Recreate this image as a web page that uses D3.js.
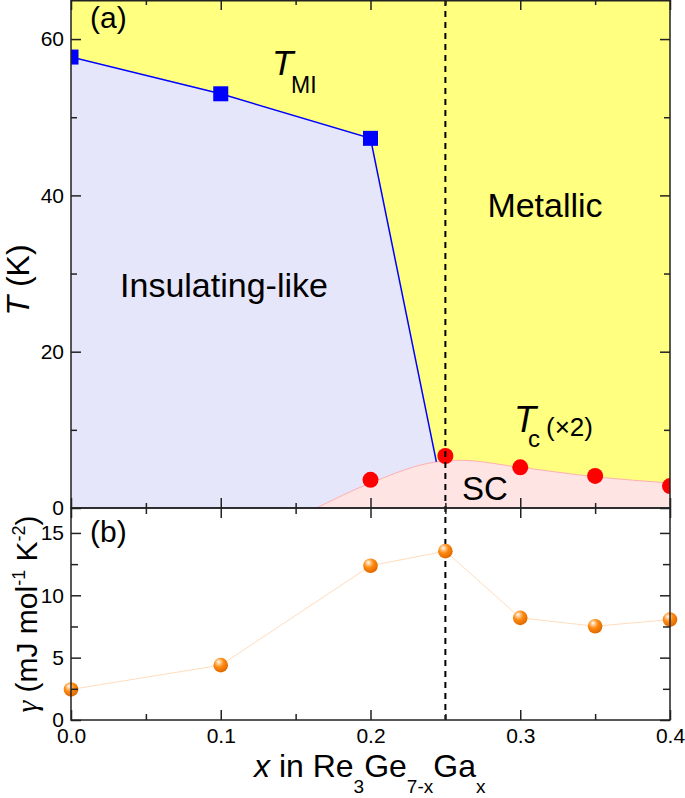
<!DOCTYPE html>
<html>
<head>
<meta charset="utf-8">
<script src="https://cdn.jsdelivr.net/npm/d3@7"></script>
<style>
html,body{margin:0;padding:0;background:#fff;}
svg{display:block;}
text{font-family:"Liberation Sans",Arial,sans-serif;fill:#000;}
</style>
</head>
<body>
<div id="chart"></div>
<script>
// ---------- data ----------
const miX = [0, 0.1, 0.2];            // T_MI points (x)
const miT = [57.7, 53.0, 47.3];       // T_MI (K)
const miLineX = [0, 0.1, 0.2, 0.244]; // MI boundary line
const miLineT = [57.7, 53.0, 47.3, 5.9];
const tcX = [0.2, 0.25, 0.3, 0.35, 0.4];   // Tc points
const tcT = [3.6, 6.65, 5.2, 4.1, 2.8];    // Tc (x2), K
const domeX = [0.164, 0.2, 0.244, 0.26, 0.3, 0.35, 0.4]; // SC dome boundary
const domeT = [0, 3.2, 5.9, 6.1, 5.2, 4.0, 3.2];
const gX = [0, 0.1, 0.2, 0.25, 0.3, 0.35, 0.4];          // gamma points
const gammaV = [2.45, 4.4, 12.37, 13.54, 8.19, 7.52, 8.05]; // mJ mol^-1 K^-2
const xTicks = [0, 0.1, 0.2, 0.3, 0.4];
const xTickLabels = ["0.0", "0.1", "0.2", "0.3", "0.4"];
const xMinor = [0.05, 0.15, 0.25, 0.35];
const tTicks = [0, 20, 40, 60];
const tMinor = [10, 30, 50];
const gTicks = [0, 5, 10, 15];
const gMinor = [2.5, 7.5, 12.5];
const xCritical = 0.25;

// ---------- layout ----------
const W = 685, H = 798;
const L = 71, R = 670, T0 = 0, MID = 508, B = 720;
const svg = d3.select("#chart").append("svg").attr("width", W).attr("height", H);

const x = d3.scaleLinear().domain([0, 0.4]).range([L, R]);
const yT = d3.scaleLinear().domain([0, 65]).range([MID, T0]);
const yG = d3.scaleLinear().domain([0, 17]).range([B, MID]);

const defs = svg.append("defs");
defs.append("clipPath").attr("id", "clipTop").append("rect")
  .attr("x", L).attr("y", T0).attr("width", R - L).attr("height", MID - T0);
const grad = defs.append("radialGradient").attr("id", "ball")
  .attr("cx", "40%").attr("cy", "35%").attr("r", "65%").attr("fx", "35%").attr("fy", "28%");
grad.append("stop").attr("offset", "0%").attr("stop-color", "#ffffff");
grad.append("stop").attr("offset", "18%").attr("stop-color", "#ffd2a0");
grad.append("stop").attr("offset", "50%").attr("stop-color", "#ff8a10");
grad.append("stop").attr("offset", "100%").attr("stop-color", "#e06800");

// ---------- top panel ----------
const topG = svg.append("g").attr("clip-path", "url(#clipTop)");
topG.append("rect").attr("x", L).attr("y", T0).attr("width", R - L).attr("height", MID - T0)
  .attr("fill", "#ffff80");

// insulating region
const insPts = miLineX.map((d, i) => [d, miLineT[i]]);
const insPoly = insPts.concat([[miLineX[miLineX.length - 1], 0], [0, 0]]);
topG.append("path")
  .attr("d", d3.line().x(d => x(d[0])).y(d => yT(d[1]))(insPoly) + "Z")
  .attr("fill", "#e6e6fa");

// SC dome
const domePts = domeX.map((d, i) => [d, domeT[i]]);
const domeLine = d3.line().x(d => x(d[0])).y(d => yT(d[1])).curve(d3.curveMonotoneX);
const domeArea = d3.area().x(d => x(d[0])).y0(yT(0)).y1(d => yT(d[1])).curve(d3.curveMonotoneX);
topG.append("path").attr("d", domeArea(domePts)).attr("fill", "#ffe4e4");
topG.append("path").attr("d", domeLine(domePts)).attr("fill", "none")
  .attr("stroke", "#ffb0b0").attr("stroke-width", 1);

// MI line
topG.append("path")
  .attr("d", d3.line().x(d => x(d[0])).y(d => yT(d[1]))(insPts))
  .attr("fill", "none").attr("stroke", "#0000ff").attr("stroke-width", 1.5);
topG.selectAll("rect.mi").data(miX).enter().append("rect").attr("class", "mi")
  .attr("x", (d) => x(d) - 7.5).attr("y", (d, i) => yT(miT[i]) - 7.5)
  .attr("width", 15).attr("height", 15).attr("fill", "#0000ff");

// Tc points
topG.selectAll("circle.tc").data(tcX).enter().append("circle").attr("class", "tc")
  .attr("cx", d => x(d)).attr("cy", (d, i) => yT(tcT[i])).attr("r", 8).attr("fill", "#ff0000");

// ---------- bottom panel ----------
svg.append("path")
  .attr("d", d3.line().x(d => x(d[0])).y(d => yG(d[1]))(gX.map((d, i) => [d, gammaV[i]])))
  .attr("fill", "none").attr("stroke", "#ffdcbc").attr("stroke-width", 1);

// dashed critical line
svg.append("line").attr("x1", x(xCritical)).attr("x2", x(xCritical)).attr("y1", T0).attr("y2", B)
  .attr("stroke", "#000").attr("stroke-width", 2).attr("stroke-dasharray", "6,5");

svg.selectAll("circle.g").data(gX).enter().append("circle").attr("class", "g")
  .attr("cx", d => x(d)).attr("cy", (d, i) => yG(gammaV[i])).attr("r", 7.3).attr("fill", "url(#ball)");

// ---------- axes ----------
const axCol = "#222";
function styleAxis(g) {
  g.select(".domain").remove();
  g.selectAll(".tick line").attr("stroke", axCol).attr("stroke-width", 1.5);
  g.selectAll(".tick text").attr("font-size", 21).attr("fill", "#000")
    .attr("font-family", "Liberation Sans, Arial, sans-serif");
}
function addAxis(axis, tr) {
  svg.append("g").attr("transform", tr).call(axis).call(styleAxis);
}
const none = () => "";
// top panel
addAxis(d3.axisLeft(yT).tickValues(tTicks).tickSize(-10).tickPadding(7), `translate(${L},0)`);
addAxis(d3.axisLeft(yT).tickValues(tMinor).tickSize(-6).tickFormat(none), `translate(${L},0)`);
addAxis(d3.axisRight(yT).tickValues(tTicks).tickSize(-10).tickFormat(none), `translate(${R},0)`);
addAxis(d3.axisRight(yT).tickValues(tMinor).tickSize(-6).tickFormat(none), `translate(${R},0)`);
addAxis(d3.axisTop(x).tickValues(xTicks).tickSize(-10).tickFormat(none), `translate(0,${T0})`);
addAxis(d3.axisTop(x).tickValues(xMinor).tickSize(-5).tickFormat(none), `translate(0,${T0})`);
addAxis(d3.axisBottom(x).tickValues(xTicks).tickSize(-10).tickFormat(none), `translate(0,${MID})`);
addAxis(d3.axisBottom(x).tickValues(xMinor).tickSize(-5).tickFormat(none), `translate(0,${MID})`);
// bottom panel
addAxis(d3.axisLeft(yG).tickValues(gTicks).tickSize(-10).tickPadding(7), `translate(${L},0)`);
addAxis(d3.axisLeft(yG).tickValues(gMinor).tickSize(-7).tickFormat(none), `translate(${L},0)`);
addAxis(d3.axisRight(yG).tickValues(gTicks).tickSize(-10).tickFormat(none), `translate(${R},0)`);
addAxis(d3.axisRight(yG).tickValues(gMinor).tickSize(-7).tickFormat(none), `translate(${R},0)`);
addAxis(d3.axisTop(x).tickValues(xTicks).tickSize(-10).tickFormat(none), `translate(0,${MID})`);
addAxis(d3.axisTop(x).tickValues(xMinor).tickSize(-6).tickFormat(none), `translate(0,${MID})`);
addAxis(d3.axisBottom(x).tickValues(xTicks).tickSize(-10).tickPadding(8)
  .tickFormat((d, i) => xTickLabels[i]), `translate(0,${B})`);
addAxis(d3.axisBottom(x).tickValues(xMinor).tickSize(-6).tickFormat(none), `translate(0,${B})`);

// frames
svg.append("rect").attr("x", L).attr("y", T0 + 0.75).attr("width", R - L).attr("height", MID - T0 - 0.75)
  .attr("fill", "none").attr("stroke", axCol).attr("stroke-width", 1.5);
svg.append("rect").attr("x", L).attr("y", MID).attr("width", R - L).attr("height", B - MID)
  .attr("fill", "none").attr("stroke", axCol).attr("stroke-width", 1.5);

// ---------- text ----------
function txt(s, px, py, size, opts = {}) {
  const t = svg.append("text").attr("x", px).attr("y", py).attr("font-size", size).text(s);
  if (opts.anchor) t.attr("text-anchor", opts.anchor);
  if (opts.italic) t.attr("font-style", "italic");
  return t;
}
txt("(a)", 90, 28, 30);
txt("(b)", 90, 542, 30);
txt("Metallic", 545, 217, 34, {anchor: "middle"});
txt("Insulating-like", 224, 297, 34, {anchor: "middle"});
txt("SC", 462, 500, 33);

// T_MI
const tmi = svg.append("text").attr("x", 272).attr("y", 75).attr("font-size", 35);
tmi.append("tspan").attr("font-style", "italic").text("T");
tmi.append("tspan").attr("x", 291).attr("y", 93).attr("font-size", 23).text("MI");
// T_c(x2)
const tc = svg.append("text").attr("x", 514).attr("y", 432).attr("font-size", 36);
tc.append("tspan").attr("font-style", "italic").text("T");
tc.append("tspan").attr("x", 528).attr("y", 447).attr("font-size", 24).text("c");
tc.append("tspan").attr("x", 546).attr("y", 436).attr("font-size", 26).text("(\u00d72)");

// y titles
const yt1 = svg.append("text").attr("transform", "translate(29,280) rotate(-90)")
  .attr("text-anchor", "middle").attr("font-size", 32);
yt1.append("tspan").attr("font-style", "italic").text("T");
yt1.append("tspan").text(" (K)");

const yt2 = svg.append("text").attr("transform", "translate(37,614) rotate(-90)")
  .attr("text-anchor", "middle").attr("font-size", 30);
yt2.append("tspan").attr("font-style", "italic").attr("font-family", "Liberation Serif, serif").text("\u03b3");
yt2.append("tspan").text(" (mJ mol");
yt2.append("tspan").attr("font-size", 18).attr("dy", -12).text("-1");
yt2.append("tspan").attr("dy", 12).text(" K");
yt2.append("tspan").attr("font-size", 18).attr("dy", -12).text("-2");
yt2.append("tspan").attr("dy", 12).text(")");

// x title
const xt = svg.append("text").attr("x", 254).attr("y", 777).attr("font-size", 32);
xt.append("tspan").attr("font-style", "italic").text("x");
xt.append("tspan").text(" in Re");
xt.append("tspan").attr("font-size", 19).attr("dy", 16).text("3");
xt.append("tspan").attr("dy", -16).text("Ge");
xt.append("tspan").attr("font-size", 19).attr("dy", 16).text("7-x");
xt.append("tspan").attr("dy", -16).text("Ga");
xt.append("tspan").attr("font-size", 19).attr("dy", 16).text("x");
</script>
</body>
</html>
